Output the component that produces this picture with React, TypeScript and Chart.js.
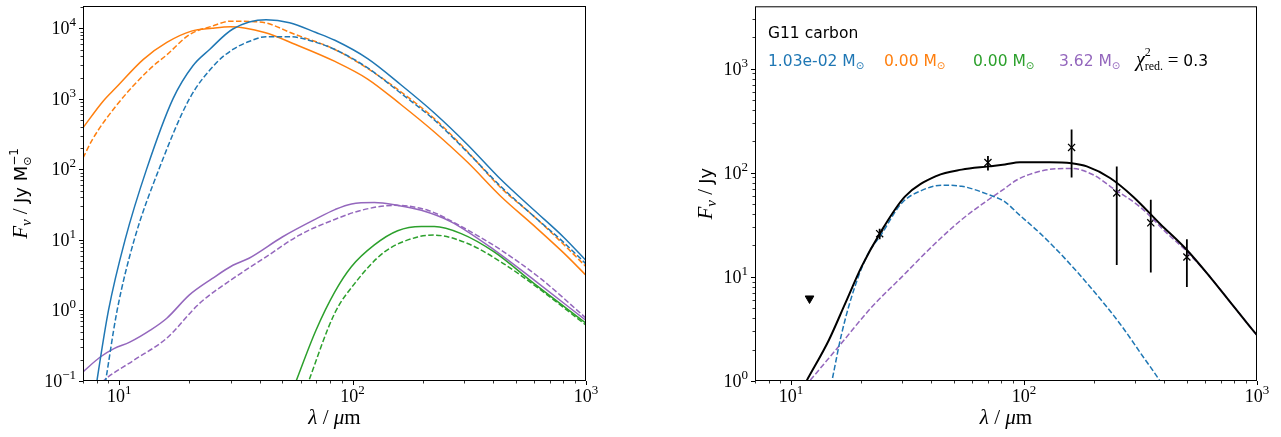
import React, { useEffect, useRef } from 'react';
import { Chart, registerables } from 'chart.js';

Chart.register(...registerables);

// ---------------- colours ----------------
const BLUE = '#1f77b4';
const ORANGE = '#ff7f0e';
const GREEN = '#2ca02c';
const PURPLE = '#9467bd';

// ---------------- left panel data (F_nu / Jy Msun^-1) ----------------
const orangeSolidWl = [7, 8.5, 9.7, 12.7, 16, 20.4, 25, 30, 42, 57, 84, 116, 161, 224, 311, 431, 600, 800, 1000];
const orangeSolidF = [389, 912, 1445, 3630, 6310, 9120, 10000, 10500, 8710, 5890, 3390, 1910, 832, 339, 126, 41.7, 15.8, 6.6, 3.16];

const orangeDashedWl = [7, 7.7, 9.7, 13.5, 16, 20, 25, 30, 40, 57, 84, 116, 161, 224, 311, 431, 600, 800, 1000];
const orangeDashedF = [145, 269, 794, 2630, 4200, 8130, 10700, 12600, 12300, 8130, 5010, 2690, 1260, 525, 178, 55, 21.4, 8.7, 4.17];

const blueSolidWl = [7.8, 8.03, 9.0, 10.6, 13.1, 17, 20.7, 24.4, 30.7, 42.6, 53.7, 69.7, 84, 116, 161, 224, 311, 431, 600, 800, 1000];
const blueSolidF = [0.052, 0.1, 1.0, 10, 100, 1000, 2950, 5010, 9770, 13200, 12000, 8710, 6760, 3720, 1585, 631, 224, 72.4, 26.3, 11.0, 5.1];

const blueDashedWl = [8.5, 8.75, 9.8, 11.6, 14.8, 20, 26.1, 30.7, 36, 42.6, 53.7, 69.7, 84, 116, 161, 224, 311, 431, 600, 800, 1000];
const blueDashedF = [0.056, 0.1, 1.0, 10, 100, 1000, 3240, 5010, 6500, 7590, 7590, 6310, 5010, 2750, 1200, 501, 174, 57.5, 21.4, 9.3, 4.57];

const purpleSolidWl = [7, 8.3, 9.5, 11.1, 13.6, 16, 20, 25, 30.7, 36, 50, 70, 84, 99, 124, 156, 197, 263, 404, 600, 1000];
const purpleSolidF = [0.135, 0.219, 0.288, 0.355, 0.525, 0.776, 1.66, 2.82, 4.37, 5.5, 11.0, 20.0, 26.9, 32.4, 33.9, 30.9, 26.3, 18.2, 7.24, 2.69, 0.72];

const purpleDashedWl = [8.0, 8.55, 11.5, 15.9, 22.1, 30.7, 42.6, 59.2, 83.8, 109, 151, 210, 292, 431, 640, 1000];
const purpleDashedF = [0.079, 0.1, 0.195, 0.398, 1.26, 2.82, 5.75, 11.7, 19.5, 26.3, 30.9, 26.3, 15.5, 7.24, 2.82, 0.78];

const greenSolidWl = [55, 57.3, 69.7, 83.8, 98.8, 124, 156, 197, 224, 292, 404, 600, 1000];
const greenSolidF = [0.07, 0.1, 0.525, 1.82, 4.17, 8.5, 13.5, 15.5, 15.5, 12.3, 6.76, 2.4, 0.66];

const greenDashedWl = [62, 64.9, 83.8, 102, 137, 190, 224, 311, 431, 640, 1000];
const greenDashedF = [0.065, 0.1, 0.91, 2.4, 6.76, 11.0, 11.7, 8.9, 4.9, 1.95, 0.62];

// ---------------- right panel data (F_nu / Jy) ----------------
const totalWl = [11.2, 11.7, 14.5, 17.1, 20.1, 24.1, 30.8, 42.2, 54, 70.3, 82.8, 96, 129, 160, 186, 234, 294, 383, 499, 628, 791, 1000];
const totalF = [0.85, 1.02, 2.45, 5.6, 12.6, 26.3, 58.9, 93.3, 107, 115, 120, 126, 126, 123, 115, 89, 58.9, 32.4, 18.2, 10.0, 5.25, 2.75];

const warmWl = [14.6, 15.0, 16.5, 18.8, 21.5, 24.1, 29.9, 36.4, 44.4, 54, 70.3, 82.8, 96, 117, 152, 198, 258, 325, 381, 400];
const warmF = [0.76, 1.02, 2.88, 8.1, 17, 24.5, 51.3, 67.6, 75.9, 74.1, 61.7, 52.5, 38.9, 26.3, 14.5, 7.41, 3.55, 1.70, 1.02, 0.85];

const coldWl = [11.5, 12.1, 16, 22.2, 29.9, 40.2, 54, 70.3, 82.8, 93, 121, 160, 198, 241, 315, 410, 499, 628, 791, 1000];
const coldF = [0.89, 1.02, 2.14, 5.13, 10, 19.5, 35.5, 55, 70.8, 85.1, 105, 110, 95.5, 70.8, 46.8, 26.3, 17.6, 10.0, 5.25, 2.75];

const obsWl = [24, 70, 160, 250, 350, 500];
const obsF = [26, 125, 175, 64, 33, 15.5];
const obsErr = [3, 20, 85, 51, 22, 7.5];

const limitWl = [12];
const limitF = [6.2];

// ---------------- axes ----------------
const X_MIN = 7;
const X_MAX = 1000;
const LEFT_Y_MIN = 0.1;
const LEFT_Y_MAX = 20700;
const RIGHT_Y_MIN = 1;
const RIGHT_Y_MAX = 3960;
const xMajorTicks = [10, 100, 1000];
const leftYMajorTicks = [0.1, 1, 10, 100, 1000, 10000];
const rightYMajorTicks = [1, 10, 100, 1000];

const SERIF = '"Liberation Serif", "DejaVu Serif", serif';
const SANS = '"DejaVu Sans", sans-serif';

type Seg = { t: string; f: string; dy?: number; c?: string; stack?: boolean };

function layoutSegs(ctx: CanvasRenderingContext2D, segs: Seg[]) {
  let cx = 0;
  let prevStart = 0;
  let prevW = 0;
  const pos: number[] = [];
  for (const s of segs) {
    ctx.font = s.f;
    const w = ctx.measureText(s.t).width;
    if (s.stack) {
      pos.push(prevStart);
      prevW = Math.max(prevW, w);
      cx = prevStart + prevW;
    } else {
      pos.push(cx);
      prevStart = cx;
      prevW = w;
      cx += w;
    }
  }
  return { pos, total: cx };
}

function drawSegs(ctx: CanvasRenderingContext2D, segs: Seg[], x: number, y: number, align: 'left' | 'center' | 'right') {
  const { pos, total } = layoutSegs(ctx, segs);
  const x0 = align === 'center' ? x - total / 2 : align === 'right' ? x - total : x;
  ctx.textAlign = 'left';
  ctx.textBaseline = 'alphabetic';
  segs.forEach((s, i) => {
    ctx.font = s.f;
    ctx.fillStyle = s.c || '#000';
    ctx.fillText(s.t, x0 + pos[i], y + (s.dy || 0));
  });
}

function expLabel(v: number): Seg[] {
  const e = Math.round(Math.log10(v));
  const es = e < 0 ? '\u2212' + Math.abs(e) : String(e);
  return [
    { t: '10', f: `18px ${SERIF}` },
    { t: es, f: `13px ${SERIF}`, dy: -8 },
  ];
}

function lineDs(wl: number[], f: number[], color: string, dashed: boolean, width = 1.5) {
  return {
    data: wl.map((x, i) => ({ x, y: f[i] })),
    showLine: true,
    borderColor: color,
    backgroundColor: color,
    borderWidth: width,
    borderDash: dashed ? [5.5, 2.4] : [],
    pointRadius: 0,
    cubicInterpolationMode: 'monotone' as const,
  };
}

type Decor = {
  yMajor: number[];
  yLabel: Seg[];
  yLabelX: number;
  extra?: (chart: any) => void;
};

function decorPlugin(d: Decor) {
  return {
    id: 'decor',
    afterDatasetsDraw(chart: any) {
      if (d.extra) d.extra(chart);
    },
    afterDraw(chart: any) {
      const ctx: CanvasRenderingContext2D = chart.ctx;
      const a = chart.chartArea;
      const xs = chart.scales.x;
      const ys = chart.scales.y;
      ctx.save();
      ctx.strokeStyle = '#000';
      ctx.lineWidth = 1;
      ctx.strokeRect(a.left + 0.5, a.top + 0.5, a.right - a.left - 1, a.bottom - a.top - 1);
      // x ticks
      const xlo = Math.floor(Math.log10(xs.min));
      const xhi = Math.ceil(Math.log10(xs.max));
      for (let e = xlo; e <= xhi; e++) {
        for (let k = 1; k <= 9; k++) {
          const v = k * Math.pow(10, e);
          if (v < xs.min * 0.999 || v > xs.max * 1.001) continue;
          const px = Math.round(xs.getPixelForValue(v)) + 0.5;
          const len = k === 1 ? 4 : 2.5;
          ctx.lineWidth = k === 1 ? 1 : 0.8;
          ctx.beginPath();
          ctx.moveTo(px, a.bottom);
          ctx.lineTo(px, a.bottom + len);
          ctx.stroke();
        }
      }
      const ylo = Math.floor(Math.log10(ys.min));
      const yhi = Math.ceil(Math.log10(ys.max));
      for (let e = ylo; e <= yhi; e++) {
        for (let k = 1; k <= 9; k++) {
          const v = k * Math.pow(10, e);
          if (v < ys.min * 0.999 || v > ys.max * 1.001) continue;
          const py = Math.round(ys.getPixelForValue(v)) + 0.5;
          const len = k === 1 ? 4 : 2.5;
          ctx.lineWidth = k === 1 ? 1 : 0.8;
          ctx.beginPath();
          ctx.moveTo(a.left - len, py);
          ctx.lineTo(a.left, py);
          ctx.stroke();
        }
      }
      // tick labels
      for (const v of xMajorTicks) {
        const px = xs.getPixelForValue(v);
        drawSegs(ctx, expLabel(v), px, a.bottom + 21, 'center');
      }
      for (const v of d.yMajor) {
        const py = ys.getPixelForValue(v);
        drawSegs(ctx, expLabel(v), a.left - 7, py + 6, 'right');
      }
      // x title
      drawSegs(
        ctx,
        [
          { t: '\u03bb', f: `italic 21px ${SERIF}` },
          { t: ' / ', f: `21px ${SERIF}` },
          { t: '\u03bc', f: `italic 21px ${SERIF}` },
          { t: 'm', f: `21px ${SERIF}` },
        ],
        (a.left + a.right) / 2,
        a.bottom + 43,
        'center'
      );
      // y title
      ctx.save();
      ctx.translate(d.yLabelX, (a.top + a.bottom) / 2);
      ctx.rotate(-Math.PI / 2);
      drawSegs(ctx, d.yLabel, 0, 0, 'center');
      ctx.restore();
      ctx.restore();
    },
  };
}

function baseOptions(padRight: number, yWidth: number, yMin: number, yMax: number) {
  return {
    animation: false as const,
    responsive: false,
    events: [] as any[],
    layout: { padding: { left: 0, top: 6, right: padRight, bottom: 0 } },
    plugins: { legend: { display: false }, tooltip: { enabled: false } },
    scales: {
      x: {
        type: 'logarithmic' as const,
        min: X_MIN,
        max: X_MAX,
        ticks: { display: false },
        grid: { display: false },
        border: { display: false },
        afterFit: (s: any) => {
          s.height = 56;
        },
      },
      y: {
        type: 'logarithmic' as const,
        min: yMin,
        max: yMax,
        ticks: { display: false },
        grid: { display: false },
        border: { display: false },
        afterFit: (s: any) => {
          s.width = yWidth;
        },
      },
    },
  };
}

function leftConfig(): any {
  return {
    type: 'scatter',
    data: {
      datasets: [
        lineDs(blueSolidWl, blueSolidF, BLUE, false),
        lineDs(blueDashedWl, blueDashedF, BLUE, true),
        lineDs(orangeSolidWl, orangeSolidF, ORANGE, false),
        lineDs(orangeDashedWl, orangeDashedF, ORANGE, true),
        lineDs(greenSolidWl, greenSolidF, GREEN, false),
        lineDs(greenDashedWl, greenDashedF, GREEN, true),
        lineDs(purpleSolidWl, purpleSolidF, PURPLE, false),
        lineDs(purpleDashedWl, purpleDashedF, PURPLE, true),
      ],
    },
    options: baseOptions(54, 83, LEFT_Y_MIN, LEFT_Y_MAX),
    plugins: [
      decorPlugin({
        yMajor: leftYMajorTicks,
        yLabelX: 27,
        yLabel: [
          { t: 'F', f: `italic 21px ${SERIF}` },
          { t: '\u03bd', f: `italic 15px ${SERIF}`, dy: 4 },
          { t: ' / ', f: `21px ${SERIF}` },
          { t: 'Jy M', f: `18px ${SANS}` },
          { t: '\u2299', f: `11px ${SANS}`, dy: 4 },
          { t: '\u22121', f: `12px ${SANS}`, dy: -9, stack: true },
        ],
      }),
    ],
  };
}

function rightConfig(): any {
  const extra = (chart: any) => {
    const ctx: CanvasRenderingContext2D = chart.ctx;
    const xs = chart.scales.x;
    const ys = chart.scales.y;
    const a = chart.chartArea;
    ctx.save();
    ctx.beginPath();
    ctx.rect(a.left, a.top, a.right - a.left, a.bottom - a.top);
    ctx.clip();
    ctx.strokeStyle = '#000';
    ctx.lineWidth = 1.8;
    obsWl.forEach((w, i) => {
      const px = xs.getPixelForValue(w);
      const lo = Math.max(obsF[i] - obsErr[i], RIGHT_Y_MIN * 0.5);
      const hi = obsF[i] + obsErr[i];
      ctx.beginPath();
      ctx.moveTo(px, ys.getPixelForValue(lo));
      ctx.lineTo(px, ys.getPixelForValue(hi));
      ctx.stroke();
    });
    ctx.restore();
    // annotation text
    ctx.save();
    drawSegs(ctx, [{ t: 'G11 carbon', f: `15.5px ${SANS}` }], a.left + 13, 38, 'left');
    const msun = (val: string, c: string): Seg[] => [
      { t: val + ' M', f: `15.5px ${SANS}`, c },
      { t: '\u2299', f: `10px ${SANS}`, dy: 3, c },
    ];
    drawSegs(ctx, msun('1.03e-02', BLUE), a.left + 13, 66, 'left');
    drawSegs(ctx, msun('0.00', ORANGE), a.left + 129, 66, 'left');
    drawSegs(ctx, msun('0.00', GREEN), a.left + 218, 66, 'left');
    drawSegs(ctx, msun('3.62', PURPLE), a.left + 304, 66, 'left');
    drawSegs(
      ctx,
      [
        { t: '\u03c7', f: `italic 20px ${SERIF}` },
        { t: '2', f: `12px ${SERIF}`, dy: -10 },
        { t: 'red.', f: `12px ${SERIF}`, dy: 4, stack: true },
        { t: ' = ', f: `19px ${SERIF}` },
        { t: '0.3', f: `15.5px ${SANS}` },
      ],
      a.left + 381,
      66,
      'left'
    );
    ctx.restore();
  };
  return {
    type: 'scatter',
    data: {
      datasets: [
        lineDs(totalWl, totalF, '#000', false, 2),
        lineDs(warmWl, warmF, BLUE, true),
        lineDs(coldWl, coldF, PURPLE, true),
        {
          data: obsWl.map((x, i) => ({ x, y: obsF[i] })),
          showLine: false,
          pointStyle: 'crossRot',
          pointRadius: 5,
          pointBorderWidth: 1.3,
          borderColor: '#000',
          backgroundColor: '#000',
        },
        {
          data: limitWl.map((x, i) => ({ x, y: limitF[i] })),
          showLine: false,
          pointStyle: 'triangle',
          rotation: 180,
          pointRadius: 5,
          borderColor: '#000',
          backgroundColor: '#000',
        },
      ],
    },
    options: baseOptions(24, 115, RIGHT_Y_MIN, RIGHT_Y_MAX),
    plugins: [
      decorPlugin({
        yMajor: rightYMajorTicks,
        yLabelX: 71.5,
        yLabel: [
          { t: 'F', f: `italic 21px ${SERIF}` },
          { t: '\u03bd', f: `italic 15px ${SERIF}`, dy: 4 },
          { t: ' / ', f: `21px ${SERIF}` },
          { t: 'Jy', f: `18px ${SANS}` },
        ],
        extra,
      }),
    ],
  };
}

export default function App() {
  const leftRef = useRef<HTMLCanvasElement>(null);
  const rightRef = useRef<HTMLCanvasElement>(null);
  useEffect(() => {
    const c1 = new Chart(leftRef.current as HTMLCanvasElement, leftConfig());
    const c2 = new Chart(rightRef.current as HTMLCanvasElement, rightConfig());
    return () => {
      c1.destroy();
      c2.destroy();
    };
  }, []);
  return (
    <div style={{ position: 'absolute', left: 0, top: 0, width: 1281, height: 437, background: '#fff' }}>
      <canvas
        ref={leftRef}
        width={640}
        height={437}
        style={{ position: 'absolute', left: 0, top: 0, width: 640, height: 437 }}
      />
      <canvas
        ref={rightRef}
        width={641}
        height={437}
        style={{ position: 'absolute', left: 640, top: 0, width: 641, height: 437 }}
      />
    </div>
  );
}
